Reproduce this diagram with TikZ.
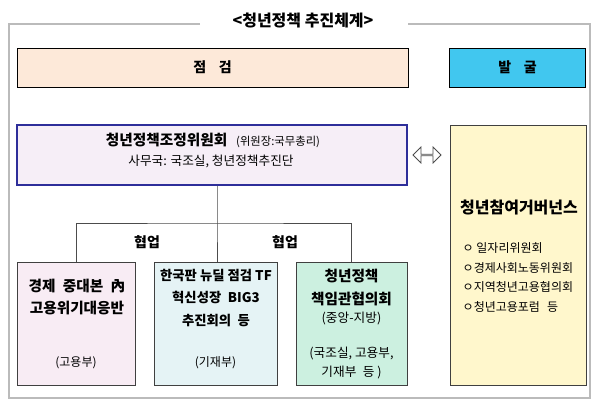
\documentclass[tikz,border=0pt]{standalone}
\usepackage{fontspec}
\setmainfont{Noto Sans CJK KR}
\usetikzlibrary{shapes.arrows}
\definecolor{framegray}{HTML}{BBBBBB}
\definecolor{peach}{HTML}{FDE9D9}
\definecolor{skyblue}{HTML}{41C7EF}
\definecolor{lavender}{HTML}{F6EEF7}
\definecolor{navyline}{HTML}{2E2E9A}
\definecolor{cream}{HTML}{FFF7CC}
\definecolor{rosewash}{HTML}{F8ECF4}
\definecolor{icewash}{HTML}{E5F3F5}
\definecolor{mintwash}{HTML}{CCF0E0}
\definecolor{boxline}{HTML}{404040}
\tikzset{boxsize/.style 2 args={minimum width=#1*0.75pt, minimum height=#2*0.75pt}}
\begin{document}
\begin{tikzpicture}[x=0.75pt,y=-0.75pt]
\tikzstyle{box} = [
 draw=boxline,
 line width=0.75pt,
 inner sep=0pt
]
\tikzstyle{head} = [font=\fontsize{10.5}{12}\selectfont\bfseries]
\tikzstyle{big} = [align=center, font=\fontsize{11}{17}\selectfont\bfseries]
\tikzstyle{small} = [align=center, font=\fontsize{9.5}{14.25}\selectfont]
\tikzstyle{link} = [draw=black!70, line width=0.75pt]
\useasboundingbox (0,0) rectangle (600,405);

% frame and title
\draw[framegray, line width=1.1pt] (200,24) -| (9,398) -| (590,24) -- (408,24);
\node[font=\fontsize{12}{14}\selectfont\bfseries] at (303,21) (title) {<청년정책 추진체계>};

% top bars
\node[box, draw=black, fill=peach, boxsize={391}{39}] at (212.5,67.5) (check) {};
\node[head] at (check) {점\hspace{0.9em}검};
\node[box, draw=black, fill=skyblue, boxsize={136}{39}] at (517.5,67.5) (discover) {};
\node[head] at (discover) {발\hspace{0.9em}굴};

% committee
\node[box, draw=navyline, line width=1pt, fill=lavender, boxsize={390}{60}] at (212,155) (cmte) {};
\node[font=\fontsize{11}{12}\selectfont\bfseries] at (213,140) (cmtename) {청년정책조정위원회\hspace{0.6em}\fontsize{8.5}{10}\selectfont\mdseries(위원장:국무총리)};
\node[small] at (211,161) (cmtesec) {사무국: 국조실, 청년정책추진단};

\node[double arrow, draw=black!70, fill=white, line width=0.6pt, inner sep=0pt,
 minimum height=28*0.75pt, minimum width=16*0.75pt,
 double arrow head extend=4*0.75pt] at (427,155) (both) {};

% youth governance
\node[box, fill=cream, boxsize={136}{260}] at (518,255) (gov) {};
\node[font=\fontsize{12}{14}\selectfont\bfseries] at (519,207) (govname) {청년참여거버넌스};
\node[align=left, anchor=west, font=\fontsize{9}{14.75}\selectfont] at (458,277.5) (govlist) {ㅇ 일자리위원회\\ㅇ경제사회노동위원회\\ㅇ지역청년고용협의회\\ㅇ청년고용포럼\hspace{0.6em}등};

% lower bodies
\node[box, fill=rosewash, boxsize={118}{123}] at (76,323.5) (jobs) {};
\node[big] at (77,297) {경제\hspace{0.5em}중대본\hspace{0.5em}內\\고용위기대응반};
\node[small, font=\fontsize{9}{12}\selectfont] at (76,363) {(고용부)};

\node[box, fill=icewash, boxsize={123}{123}] at (215.5,323.5) (newdeal) {};
\node[big, font=\fontsize{10}{17}\selectfont\bfseries] at (216,298) {한국판 뉴딜 점검 TF\\혁신성장\hspace{0.5em}BIG3\\추진회의\hspace{0.5em}등};
\node[small, font=\fontsize{9}{12}\selectfont] at (215.5,363) {(기재부)};

\node[box, fill=mintwash, boxsize={111}{123}] at (351.5,323.5) (council) {};
\node[big] at (351.5,287.5) {청년정책\\책임관협의회};
\node[small] at (351.5,318) {(중앙-지방)};
\node[small] at (351.5,362.5) {(국조실, 고용부,\\기재부\hspace{0.5em}등 )};

% links
\coordinate (split) at (217,223);
\path[link] (cmte.south -| split) -- (split) -- (newdeal.north -| split);
\path[link] (jobs.north) |- (split) -| (council.north);
\node[head] at (147,242) {협업};
\node[head] at (285,242) {협업};
\end{tikzpicture}
\end{document}
